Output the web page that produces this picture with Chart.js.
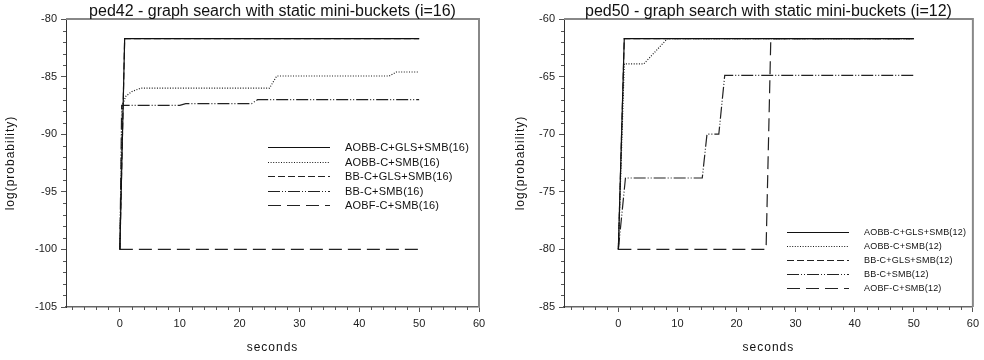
<!DOCTYPE html>
<html>
<head>
<meta charset="utf-8">
<script src="https://cdn.jsdelivr.net/npm/chart.js@4.4.1/dist/chart.umd.min.js"></script>
<style>
  html, body { margin: 0; padding: 0; background: #fff; }
  .wrap { display: flex; width: 984px; height: 360px; }
  canvas { display: block; }
</style>
</head>
<body>
<div class="wrap">
  <canvas id="c42" width="492" height="360"></canvas>
  <canvas id="c50" width="492" height="360"></canvas>
</div>
<script>
// tick labels
const xTickValues = [0, 10, 20, 30, 40, 50, 60];
const ped42YTicks = [-105, -100, -95, -90, -85, -80];
const ped50YTicks = [-85, -80, -75, -70, -65, -60];

const names42 = ['AOBB-C+GLS+SMB(16)', 'AOBB-C+SMB(16)', 'BB-C+GLS+SMB(16)', 'BB-C+SMB(16)', 'AOBF-C+SMB(16)'];
const names50 = ['AOBB-C+GLS+SMB(12)', 'AOBB-C+SMB(12)', 'BB-C+GLS+SMB(12)', 'BB-C+SMB(12)', 'AOBF-C+SMB(12)'];

// ped42 (i=16)
const p42GlsX = [0, 0.8, 50];
const p42GlsY = [-100, -81.7, -81.7];
const p42SmbX = [0, 0.4, 1, 2, 3.5, 25, 26.2, 45, 46.2, 50];
const p42SmbY = [-100, -87.5, -86.7, -86.3, -86.0, -86.0, -84.95, -84.95, -84.6, -84.6];
const p42BbGlsX = [0, 0.8, 50];
const p42BbGlsY = [-100, -81.7, -81.7];
const p42BbX = [0, 0.3, 10, 11, 22, 23, 50];
const p42BbY = [-100, -87.5, -87.5, -87.35, -87.35, -87.0, -87.0];
const p42AobfX = [0, 50];
const p42AobfY = [-100, -100];

// ped50 (i=12)
const p50GlsX = [0, 1, 50];
const p50GlsY = [-80, -61.7, -61.7];
const p50SmbX = [0, 1, 4.3, 8.3, 50];
const p50SmbY = [-80, -63.9, -63.9, -61.7, -61.7];
const p50BbGlsX = [0, 1, 50];
const p50BbGlsY = [-80, -61.7, -61.7];
const p50BbX = [0, 1.2, 14.2, 15, 17, 18, 50];
const p50BbY = [-80, -73.8, -73.8, -70, -70, -64.9, -64.9];
const p50AobfX = [0, 25, 25.8, 50];
const p50AobfY = [-80, -80, -61.7, -61.7];

const FONT = "'Liberation Sans', Arial, sans-serif";
const styles = [
  { color: '#111', dash: [] },
  { color: '#1a1a1a', dash: [1, 1.6] },
  { color: '#222', dash: [7, 3] },
  { color: '#222', dash: [12, 2, 1, 2, 1, 2] },
  { color: '#222', dash: [13, 6] }
];

function pts(xs, ys) {
  return xs.map((x, i) => ({ x: x, y: ys[i] }));
}

function decor(cfg) {
  return {
    id: 'decor',
    afterDatasetsDraw(chart) {
      const ctx = chart.ctx;
      const a = chart.chartArea;
      const xs = chart.scales.x, ys = chart.scales.y;
      ctx.save();
      // top and right frame
      ctx.strokeStyle = '#888';
      ctx.lineWidth = 2;
      ctx.beginPath();
      ctx.moveTo(a.left, a.top);
      ctx.lineTo(a.right, a.top);
      ctx.lineTo(a.right, a.bottom);
      ctx.stroke();
      // minor ticks
      ctx.strokeStyle = '#555';
      ctx.lineWidth = 1;
      ctx.beginPath();
      for (let v = -8; v <= 60; v += 2) {
        if (v % 10 === 0) continue;
        const px = Math.round(xs.getPixelForValue(v)) + 0.5;
        ctx.moveTo(px, a.bottom);
        ctx.lineTo(px, a.bottom + 3);
      }
      for (let v = ys.min; v <= ys.max; v += 1) {
        if (v % 5 === 0) continue;
        const py = Math.round(ys.getPixelForValue(v)) + 0.5;
        ctx.moveTo(a.left, py);
        ctx.lineTo(a.left - 3, py);
      }
      ctx.stroke();
      // chart title
      ctx.fillStyle = '#111';
      ctx.font = '16px ' + FONT;
      ctx.textAlign = 'center';
      ctx.textBaseline = 'alphabetic';
      ctx.fillText(cfg.title, (a.left + a.right) / 2, 16);
      // axis titles
      ctx.font = '12px ' + FONT;
      ctx.letterSpacing = '1px';
      ctx.textBaseline = 'middle';
      ctx.fillText('seconds', (a.left + a.right) / 2, 348);
      ctx.save();
      ctx.translate(cfg.yTitleX, (a.top + a.bottom) / 2);
      ctx.rotate(-Math.PI / 2);
      ctx.fillText('log(probability)', 0, 0);
      ctx.restore();
      // legend
      ctx.font = cfg.legendFont + 'px ' + FONT;
      ctx.letterSpacing = cfg.legendSpacing;
      ctx.textAlign = 'left';
      chart.data.datasets.forEach((ds, i) => {
        const y = Math.round(cfg.legendY + i * cfg.legendStep) + 0.5;
        ctx.strokeStyle = ds.borderColor;
        ctx.lineWidth = 1.2;
        ctx.setLineDash(ds.borderDash);
        ctx.beginPath();
        ctx.moveTo(cfg.legendX1, y);
        ctx.lineTo(cfg.legendX2, y);
        ctx.stroke();
        ctx.setLineDash([]);
        ctx.fillStyle = '#111';
        ctx.fillText(ds.label, cfg.legendTextX, y);
      });
      ctx.restore();
    }
  };
}

function makeChart(id, names, series, yTicks, cfg) {
  const datasets = series.map((s, i) => ({
    label: names[i],
    data: pts(s[0], s[1]),
    borderColor: styles[i].color,
    borderDash: styles[i].dash,
    borderWidth: 1.2,
    pointRadius: 0,
    tension: 0,
    fill: false
  }));
  const tickFont = { family: FONT, size: 11 };
  return new Chart(document.getElementById(id), {
    type: 'line',
    data: { datasets },
    options: {
      responsive: false,
      animation: false,
      events: [],
      layout: { padding: { top: 19, right: cfg.padRight, left: 0, bottom: 0 } },
      plugins: { legend: { display: false }, tooltip: { enabled: false }, title: { display: false } },
      scales: {
        x: {
          type: 'linear',
          min: cfg.xMin,
          max: 60,
          afterBuildTicks: sc => { sc.ticks = xTickValues.map(v => ({ value: v })); },
          afterFit: sc => { sc.height = 53; },
          grid: { drawOnChartArea: false, drawTicks: true, tickLength: 5, tickColor: '#555' },
          border: { display: true, color: '#666', width: 1.5 },
          ticks: { autoSkip: false, maxRotation: 0, padding: 5, color: '#222', font: tickFont }
        },
        y: {
          type: 'linear',
          min: yTicks[0],
          max: yTicks[yTicks.length - 1],
          afterBuildTicks: sc => { sc.ticks = yTicks.map(v => ({ value: v })); },
          afterFit: sc => { sc.width = cfg.yWidth; },
          grid: { drawOnChartArea: false, drawTicks: true, tickLength: 5, tickColor: '#555' },
          border: { display: true, color: '#333', width: 1 },
          ticks: { autoSkip: false, padding: 4, color: '#222', font: tickFont }
        }
      }
    },
    plugins: [decor(cfg)]
  });
}

makeChart('c42', names42,
  [[p42GlsX, p42GlsY], [p42SmbX, p42SmbY], [p42BbGlsX, p42BbGlsY], [p42BbX, p42BbY], [p42AobfX, p42AobfY]],
  ped42YTicks,
  { title: 'ped42 - graph search with static mini-buckets (i=16)', xMin: -9, padRight: 13, yWidth: 66, yTitleX: 11,
    legendY: 147, legendStep: 14.5, legendX1: 268, legendX2: 330, legendTextX: 345, legendFont: 11, legendSpacing: '0.2px' });

makeChart('c50', names50,
  [[p50GlsX, p50GlsY], [p50SmbX, p50SmbY], [p50BbGlsX, p50BbGlsY], [p50BbX, p50BbY], [p50AobfX, p50AobfY]],
  ped50YTicks,
  { title: 'ped50 - graph search with static mini-buckets (i=12)', xMin: -9.2, padRight: 8, yWidth: 72, yTitleX: 29,
    legendY: 231.7, legendStep: 14.1, legendX1: 295, legendX2: 357, legendTextX: 372, legendFont: 9, legendSpacing: '0.2px' });
</script>
</body>
</html>
